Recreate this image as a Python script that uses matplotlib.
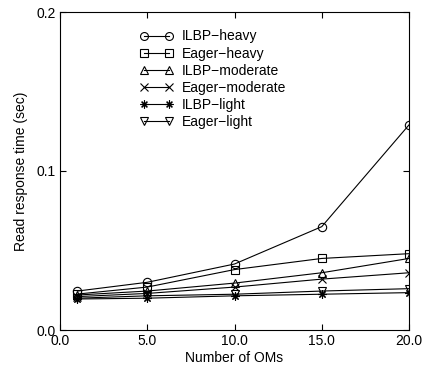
import matplotlib
matplotlib.use("Agg")
import matplotlib.pyplot as plt

plt.rcParams['font.family'] = ['Liberation Sans', 'DejaVu Sans']

oms = [1, 5, 10, 15, 20]
ilbp_heavy = [0.0245, 0.030, 0.0415, 0.065, 0.129]
eager_heavy = [0.0226, 0.027, 0.038, 0.045, 0.048]
ilbp_moderate = [0.022, 0.0245, 0.0295, 0.036, 0.045]
eager_moderate = [0.021, 0.023, 0.027, 0.032, 0.036]
ilbp_light = [0.0195, 0.020, 0.0215, 0.0225, 0.0235]
eager_light = [0.020, 0.0215, 0.0225, 0.0245, 0.026]

series = [
    ("ILBP\u2212heavy", ilbp_heavy, 'o'),
    ("Eager\u2212heavy", eager_heavy, 's'),
    ("ILBP\u2212moderate", ilbp_moderate, '^'),
    ("Eager\u2212moderate", eager_moderate, 'x'),
    ("ILBP\u2212light", ilbp_light, (8, 2, 0)),
    ("Eager\u2212light", eager_light, 'v'),
]

fig = plt.figure(figsize=(4.36, 3.74), dpi=100)
ax = fig.add_axes([60 / 436, 44 / 374, 349 / 436, 318 / 374])

for label, vals, m in series:
    ax.plot(oms, vals, color='black', lw=0.8, marker=m, markersize=6,
            markerfacecolor='none', markeredgecolor='black',
            markeredgewidth=0.8, label=label)

ax.set_xlim(0, 20)
ax.set_ylim(0, 0.2)
ax.set_xticks([0, 5, 10, 15, 20])
ax.set_xticklabels(["0.0", "5.0", "10.0", "15.0", "20.0"])
ax.set_yticks([0, 0.1, 0.2])
ax.set_yticklabels(["0.0", "0.1", "0.2"])
ax.tick_params(direction='in', top=True, right=True, labelsize=10, length=4,
               width=0.8, pad=3)
for s in ax.spines.values():
    s.set_linewidth(0.8)
ax.set_xlabel("Number of OMs", fontsize=10, labelpad=2)
ax.set_ylabel("Read response time (sec)", fontsize=10, labelpad=6)

ax.legend(loc='upper left', bbox_to_anchor=(0.229, 0.945), frameon=False,
          numpoints=2, fontsize=10, handlelength=2.4, handletextpad=0.6,
          labelspacing=0.22, borderaxespad=0, borderpad=0, markerscale=0.95)

fig.savefig("out.png", dpi=100)
